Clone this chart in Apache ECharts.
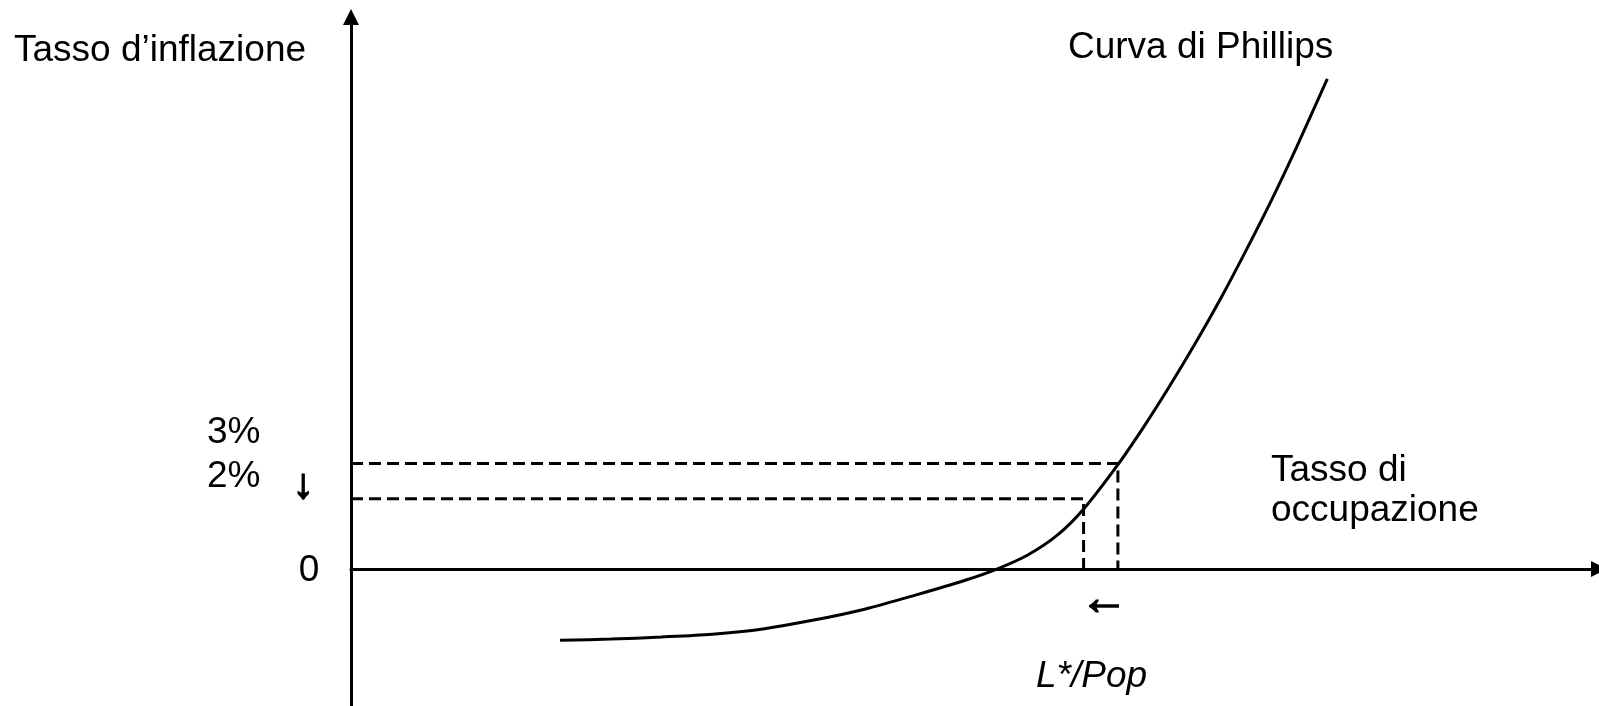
<!DOCTYPE html>
<html>
<head>
<meta charset="utf-8">
<script src="https://cdn.jsdelivr.net/npm/echarts@6/dist/echarts.min.js"></script>
<style>html,body{margin:0;padding:0;background:#fff;}#c{width:1599px;height:706px;}</style>
</head>
<body>
<div id="c"></div>
<script>
// Phillips curve points [employment rate (arbitrary units), inflation %]
const curveX = [16.75, 20.81, 24.88, 28.95, 33.01, 37.08, 41.15, 45.22, 49.28, 51.75, 54.23, 56.62, 58.69, 61.48, 63.56, 65.55, 67.62, 69.62, 71.69, 73.76, 75.76, 78.23];
const curveY = [-2.02, -1.99, -1.93, -1.85, -1.70, -1.45, -1.14, -0.74, -0.31, 0.00, 0.40, 0.97, 1.70, 2.98, 4.06, 5.17, 6.39, 7.64, 9.03, 10.48, 11.98, 13.92];
// Reference levels
const inflationLevels = [3, 2];
const employmentLevels = [61.45, 58.7];
// Texts
const yTitle = "Tasso d\u2019inflazione";
const curveName = "Curva di Phillips";
const xTitle = ["Tasso di", "occupazione"];
const levelLabels = ["3%", "2%"];
const zeroLabel = "0";
const starLabel = "L*/Pop";
const downArrow = "\u2193";
const leftArrow = "\u2190";

const FONT = "'Liberation Sans', Arial, sans-serif";
const chart = echarts.init(document.getElementById('c'), null, {renderer: 'canvas'});

const curveData = curveX.map((x, i) => [x, curveY[i]]);
const dashSeries = inflationLevels.map((lv, i) => ({
  type: 'line',
  data: [[0, lv], [employmentLevels[i], lv], [employmentLevels[i], 0]],
  symbol: 'none',
  silent: true,
  lineStyle: {color: '#000', width: 3, type: [12, 6]},
  z: 3
}));

function txt(text, x, y, opts) {
  return {
    type: 'text', x: x, y: y, silent: true,
    style: Object.assign({
      text: text, fill: '#000', fontSize: 37, fontFamily: FONT,
      align: 'left', verticalAlign: 'middle'
    }, opts || {})
  };
}

chart.setOption({
  animation: false,
  backgroundColor: '#fff',
  grid: {left: 351, right: -6, top: 17, bottom: 0, containLabel: false},
  xAxis: {
    type: 'value', min: 0, max: 100,
    axisLine: {show: true, onZero: true, symbol: ['none', 'triangle'], symbolSize: [16, 16],
      lineStyle: {color: '#000', width: 3}},
    axisTick: {show: false}, axisLabel: {show: false}, splitLine: {show: false}
  },
  yAxis: {
    type: 'value', min: -3.89, max: 15.68,
    axisLine: {show: true, onZero: true, symbol: ['none', 'triangle'], symbolSize: [16, 16],
      lineStyle: {color: '#000', width: 3}},
    axisTick: {show: false}, axisLabel: {show: false}, splitLine: {show: false}
  },
  series: [
    {
      type: 'line', data: curveData, smooth: 0.3, symbol: 'none', silent: true,
      lineStyle: {color: '#000', width: 3}, z: 4
    }
  ].concat(dashSeries),
  graphic: [
    txt(yTitle, 14, 51),
    txt(curveName, 1068, 48),
    txt(levelLabels[0], 207, 433),
    txt(levelLabels[1], 207, 477),
    txt(downArrow, 303, 486, {align: 'center', fontSize: 42, stroke: '#000', lineWidth: 1.6}),
    txt(zeroLabel, 309, 571, {align: 'center'}),
    txt(xTitle[0], 1271, 471),
    txt(xTitle[1], 1271, 511),
    txt(leftArrow, 1104, 601, {align: 'center', fontSize: 48, stroke: '#000', lineWidth: 1.6}),
    txt(starLabel, 1036, 677, {fontStyle: 'italic'})
  ]
});
</script>
</body>
</html>
